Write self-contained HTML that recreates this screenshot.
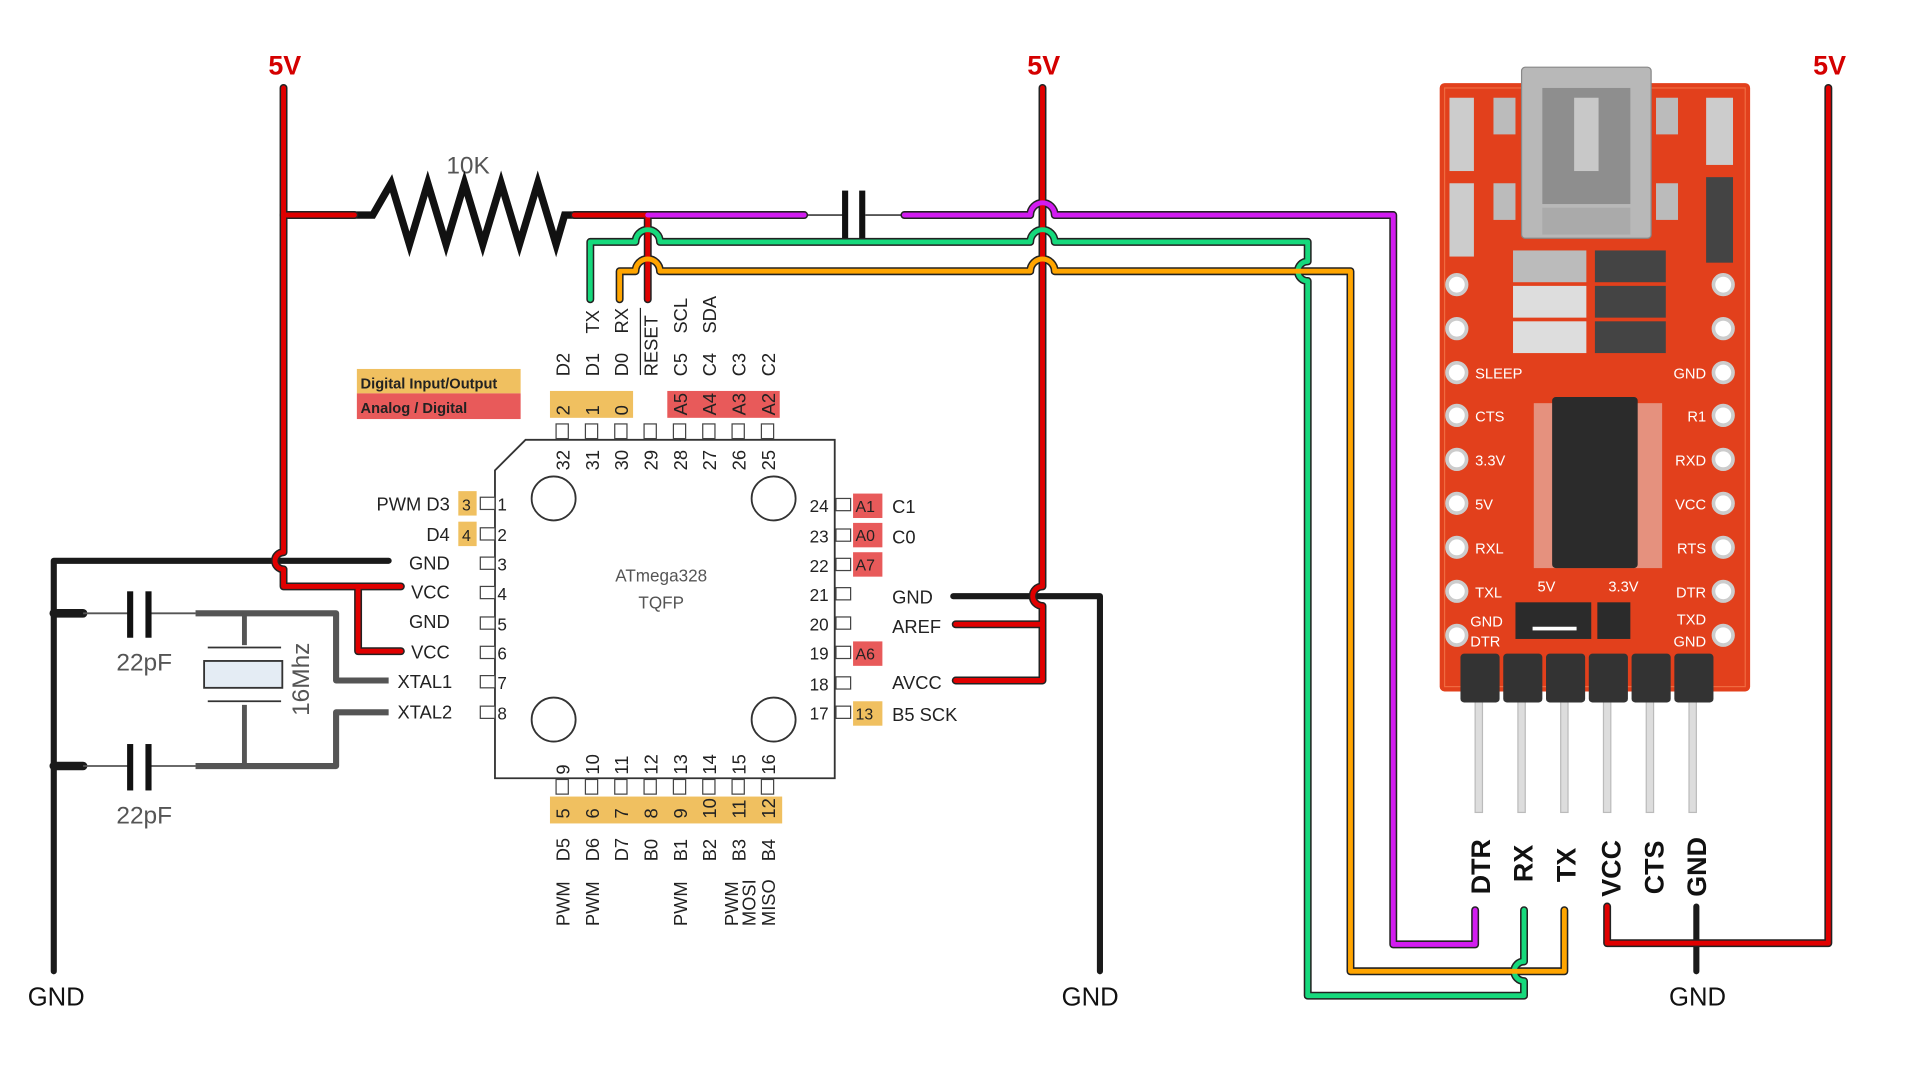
<!DOCTYPE html>
<html><head><meta charset="utf-8"><style>
html,body{margin:0;padding:0;background:#fff;width:1920px;height:1080px;overflow:hidden}
svg{display:block}
text{font-family:"Liberation Sans",sans-serif}
</style></head><body>
<svg width="1920" height="1080" viewBox="0 0 1571 884" preserveAspectRatio="none" xmlns="http://www.w3.org/2000/svg">
<rect width="1571" height="884" fill="#fff"/>

<g font-weight="bold" font-size="22" fill="#d40000" text-anchor="middle">
<text x="233" y="61">5V</text>
<text x="854" y="61">5V</text>
<text x="1497" y="61">5V</text>
</g>

<g font-size="21" fill="#111" text-anchor="middle">
<text x="46" y="823">GND</text>
<text x="892" y="823">GND</text>
<text x="1389" y="823">GND</text>
</g>

<g fill="none" stroke="#1a1a1a" stroke-width="5" stroke-linecap="round" stroke-linejoin="round">
<path d="M44 795 V459 H318"/>
<path d="M780 488 H900 V795"/>
<path d="M1388 742 V795"/>
<path d="M44 502 H68 M44 627 H68" stroke-width="7"/>
</g>

<g stroke="#555" stroke-width="1.5">
<line x1="68" y1="502" x2="107" y2="502"/><line x1="122" y1="502" x2="160" y2="502"/>
<line x1="68" y1="627" x2="107" y2="627"/><line x1="122" y1="627" x2="160" y2="627"/>
</g>
<g fill="#111">
<rect x="104" y="484" width="5" height="38"/><rect x="119" y="484" width="5" height="38"/>
<rect x="104" y="609" width="5" height="38"/><rect x="119" y="609" width="5" height="38"/>
</g>
<g font-size="20" fill="#555" text-anchor="middle">
<text x="118" y="549">22pF</text><text x="118" y="674">22pF</text>
<text x="383" y="142">10K</text>
</g>
<g fill="none" stroke="#555" stroke-width="5" stroke-linejoin="round">
<path d="M160 502 H275 V557 H318"/>
<path d="M160 627 H275 V583 H318"/>
<path d="M200 502 V528 M200 577 V627" stroke-width="4"/>
</g>
<g stroke="#333" stroke-width="1.5">
<line x1="170" y1="530" x2="230" y2="530"/><line x1="170" y1="574" x2="230" y2="574"/>
</g>
<rect x="167" y="541" width="64" height="22" fill="#e4ecf4" stroke="#333" stroke-width="1.5"/>
<text x="0" y="0" font-size="20" fill="#555" text-anchor="middle" transform="translate(253,556) rotate(-90)">16Mhz</text>

<path d="M288 176 H305 L320 150 L335 200 L350 150 L365 200 L380 150 L395 200 L410 150 L425 200 L440 150 L455 200 L462 176 H470" fill="none" stroke="#111" stroke-width="6" stroke-linejoin="miter"/>
<g stroke="#555" stroke-width="1.5"><line x1="658" y1="176" x2="692" y2="176"/><line x1="708" y1="176" x2="740" y2="176"/></g>
<rect x="689" y="156" width="5" height="40" fill="#111"/><rect x="703" y="156" width="5" height="40" fill="#111"/>

<g fill="none" stroke-linecap="round" stroke-linejoin="round">
<g stroke="#222" stroke-width="6.5">
<path id="r1" d="M232 72 V452 A7 7 0 0 0 232 466 V480 H328 M293 480 V533 H328"/>
<path id="r2" d="M232 176 H290 M470 176 H530 V245"/>
<path id="r3" d="M853 72 V480 A8 8 0 0 0 853 496 V557 H782 M853 511 H782"/>
<path id="r4" d="M1315 742 V772 H1496 V72"/>
<path id="m1" d="M530 176 H658 M740 176 H843 A10 10 0 0 1 863 176 H1140 V773 H1207 V745"/>
<path id="g1" d="M483 245 V198 H520 A10 10 0 0 1 540 198 H843 A10 10 0 0 1 863 198 H1070 V214 A8 8 0 0 0 1070 230 V815 H1247 V803 A8 8 0 0 1 1247 787 V745"/>
<path id="o1" d="M507 245 V222 H520 A10 10 0 0 1 540 222 H843 A10 10 0 0 1 863 222 H1105 V795 H1280 V745"/>
</g>
<g stroke-width="4">
<use href="#r1" stroke="#e00000"/><use href="#r2" stroke="#e00000"/><use href="#r3" stroke="#e00000"/><use href="#r4" stroke="#e00000"/>
<use href="#m1" stroke="#d21cf0"/><use href="#g1" stroke="#16d97c"/><use href="#o1" stroke="#ffa500"/>
</g>
</g>
<path d="M232 176 H290" stroke="#e00000" stroke-width="4"/>

<rect x="292" y="302" width="134" height="20" fill="#f0c060"/>
<rect x="292" y="322" width="134" height="21" fill="#e85a5a"/>
<text x="295" y="318" font-size="12" font-weight="bold" fill="#222">Digital Input/Output</text>
<text x="295" y="338" font-size="12" font-weight="bold" fill="#222">Analog / Digital</text>

<path d="M430 360 H683 V637 H405 V385 Z" fill="#fff" stroke="#333" stroke-width="1.5"/>
<g fill="none" stroke="#333" stroke-width="1.5">
<circle cx="453" cy="408" r="18"/><circle cx="633" cy="408" r="18"/><circle cx="453" cy="589" r="18"/><circle cx="633" cy="589" r="18"/>
</g>
<text x="541" y="476" font-size="14" fill="#555" text-anchor="middle">ATmega328</text>
<text x="541" y="498" font-size="14" fill="#555" text-anchor="middle">TQFP</text>

<rect x="450" y="320" width="68" height="22" fill="#f0c060"/>
<rect x="546" y="320" width="92" height="22" fill="#e85a5a"/>
<rect x="450" y="652" width="190" height="22" fill="#f0c060"/>
<rect x="375" y="402" width="15" height="20" fill="#f0c060"/><rect x="375" y="427" width="15" height="20" fill="#f0c060"/>
<rect x="698" y="404" width="24" height="20" fill="#e85a5a"/><rect x="698" y="428" width="24" height="20" fill="#e85a5a"/>
<rect x="698" y="452" width="24" height="20" fill="#e85a5a"/><rect x="698" y="525" width="24" height="20" fill="#e85a5a"/>
<rect x="698" y="574" width="24" height="20" fill="#f0c060"/>

<g fill="#fff" stroke="#444" stroke-width="1">
<rect x="455" y="347" width="10" height="12"/><rect x="479" y="347" width="10" height="12"/><rect x="503" y="347" width="10" height="12"/><rect x="527" y="347" width="10" height="12"/>
<rect x="551" y="347" width="10" height="12"/><rect x="575" y="347" width="10" height="12"/><rect x="599" y="347" width="10" height="12"/><rect x="623" y="347" width="10" height="12"/>
<rect x="455" y="638" width="10" height="12"/><rect x="479" y="638" width="10" height="12"/><rect x="503" y="638" width="10" height="12"/><rect x="527" y="638" width="10" height="12"/>
<rect x="551" y="638" width="10" height="12"/><rect x="575" y="638" width="10" height="12"/><rect x="599" y="638" width="10" height="12"/><rect x="623" y="638" width="10" height="12"/>
<rect x="393" y="407" width="12" height="10"/><rect x="393" y="432" width="12" height="10"/><rect x="393" y="456" width="12" height="10"/><rect x="393" y="480" width="12" height="10"/>
<rect x="393" y="505" width="12" height="10"/><rect x="393" y="529" width="12" height="10"/><rect x="393" y="553" width="12" height="10"/><rect x="393" y="578" width="12" height="10"/>
<rect x="684" y="408" width="12" height="10"/><rect x="684" y="433" width="12" height="10"/><rect x="684" y="457" width="12" height="10"/><rect x="684" y="481" width="12" height="10"/>
<rect x="684" y="505" width="12" height="10"/><rect x="684" y="529" width="12" height="10"/><rect x="684" y="554" width="12" height="10"/><rect x="684" y="578" width="12" height="10"/>
</g>

<g font-size="15" fill="#222">
<text x="407" y="418" font-size="14">1</text><text x="407" y="443" font-size="14">2</text><text x="407" y="467" font-size="14">3</text><text x="407" y="491" font-size="14">4</text>
<text x="407" y="516" font-size="14">5</text><text x="407" y="540" font-size="14">6</text><text x="407" y="564" font-size="14">7</text><text x="407" y="589" font-size="14">8</text>
<text x="378" y="418" font-size="13">3</text><text x="378" y="443" font-size="13">4</text>
</g>
<g font-size="15" fill="#222" text-anchor="end">
<text x="368" y="418">PWM  D3</text><text x="368" y="443">D4</text>
<text x="368" y="466">GND</text><text x="368" y="490">VCC</text><text x="368" y="514">GND</text><text x="368" y="539">VCC</text>
<text x="370" y="563">XTAL1</text><text x="370" y="588">XTAL2</text>
<text x="678" y="419" font-size="14">24</text><text x="678" y="444" font-size="14">23</text><text x="678" y="468" font-size="14">22</text><text x="678" y="492" font-size="14">21</text>
<text x="678" y="516" font-size="14">20</text><text x="678" y="540" font-size="14">19</text><text x="678" y="565" font-size="14">18</text><text x="678" y="589" font-size="14">17</text>
</g>
<g font-size="15" fill="#222">
<text x="700" y="419" font-size="13">A1</text><text x="700" y="443" font-size="13">A0</text><text x="700" y="467" font-size="13">A7</text><text x="700" y="540" font-size="13">A6</text><text x="700" y="589" font-size="13">13</text>
<text x="730" y="420">C1</text><text x="730" y="445">C0</text>
<text x="730" y="494">GND</text><text x="730" y="518">AREF</text><text x="730" y="564">AVCC</text><text x="730" y="590">B5  SCK</text>
</g>

<g font-size="15" fill="#222">
<g transform="translate(466,385) rotate(-90)"><text>32</text></g>
<g transform="translate(490,385) rotate(-90)"><text>31</text></g>
<g transform="translate(514,385) rotate(-90)"><text>30</text></g>
<g transform="translate(538,385) rotate(-90)"><text>29</text></g>
<g transform="translate(562,385) rotate(-90)"><text>28</text></g>
<g transform="translate(586,385) rotate(-90)"><text>27</text></g>
<g transform="translate(610,385) rotate(-90)"><text>26</text></g>
<g transform="translate(634,385) rotate(-90)"><text>25</text></g>
<g transform="translate(466,340) rotate(-90)"><text>2</text></g>
<g transform="translate(490,340) rotate(-90)"><text>1</text></g>
<g transform="translate(514,340) rotate(-90)"><text>0</text></g>
<g transform="translate(562,340) rotate(-90)"><text>A5</text></g>
<g transform="translate(586,340) rotate(-90)"><text>A4</text></g>
<g transform="translate(610,340) rotate(-90)"><text>A3</text></g>
<g transform="translate(634,340) rotate(-90)"><text>A2</text></g>
<g transform="translate(466,308) rotate(-90)"><text>D2</text></g>
<g transform="translate(490,308) rotate(-90)"><text>D1</text></g>
<g transform="translate(514,308) rotate(-90)"><text>D0</text></g>
<g transform="translate(538,308) rotate(-90)"><text>RESET</text></g>
<g transform="translate(562,308) rotate(-90)"><text>C5</text></g>
<g transform="translate(586,308) rotate(-90)"><text>C4</text></g>
<g transform="translate(610,308) rotate(-90)"><text>C3</text></g>
<g transform="translate(634,308) rotate(-90)"><text>C2</text></g>
<g transform="translate(490,273) rotate(-90)"><text>TX</text></g>
<g transform="translate(514,273) rotate(-90)"><text>RX</text></g>
<g transform="translate(562,273) rotate(-90)"><text>SCL</text></g>
<g transform="translate(586,273) rotate(-90)"><text>SDA</text></g>
</g>
<line x1="524" y1="252" x2="524" y2="307" stroke="#222" stroke-width="1"/>

<g font-size="15" fill="#222">
<g transform="translate(466,634) rotate(-90)"><text>9</text></g>
<g transform="translate(490,634) rotate(-90)"><text>10</text></g>
<g transform="translate(514,634) rotate(-90)"><text>11</text></g>
<g transform="translate(538,634) rotate(-90)"><text>12</text></g>
<g transform="translate(562,634) rotate(-90)"><text>13</text></g>
<g transform="translate(586,634) rotate(-90)"><text>14</text></g>
<g transform="translate(610,634) rotate(-90)"><text>15</text></g>
<g transform="translate(634,634) rotate(-90)"><text>16</text></g>
<g transform="translate(466,670) rotate(-90)"><text>5</text></g>
<g transform="translate(490,670) rotate(-90)"><text>6</text></g>
<g transform="translate(514,670) rotate(-90)"><text>7</text></g>
<g transform="translate(538,670) rotate(-90)"><text>8</text></g>
<g transform="translate(562,670) rotate(-90)"><text>9</text></g>
<g transform="translate(586,670) rotate(-90)"><text>10</text></g>
<g transform="translate(610,670) rotate(-90)"><text>11</text></g>
<g transform="translate(634,670) rotate(-90)"><text>12</text></g>
<g transform="translate(466,705) rotate(-90)"><text>D5</text></g>
<g transform="translate(490,705) rotate(-90)"><text>D6</text></g>
<g transform="translate(514,705) rotate(-90)"><text>D7</text></g>
<g transform="translate(538,705) rotate(-90)"><text>B0</text></g>
<g transform="translate(562,705) rotate(-90)"><text>B1</text></g>
<g transform="translate(586,705) rotate(-90)"><text>B2</text></g>
<g transform="translate(610,705) rotate(-90)"><text>B3</text></g>
<g transform="translate(634,705) rotate(-90)"><text>B4</text></g>
<g transform="translate(466,758) rotate(-90)"><text>PWM</text></g>
<g transform="translate(490,758) rotate(-90)"><text>PWM</text></g>
<g transform="translate(562,758) rotate(-90)"><text>PWM</text></g>
<g transform="translate(604,758) rotate(-90)"><text>PWM</text></g>
<g transform="translate(618,758) rotate(-90)"><text>MOSI</text></g>
<g transform="translate(634,758) rotate(-90)"><text>MISO</text></g>
</g>

<rect x="1178" y="68" width="254" height="498" rx="4" fill="#e2401c"/>
<rect x="1182" y="72" width="246" height="490" fill="none" stroke="#f06a40" stroke-width="1"/>
<rect x="1245" y="55" width="106" height="140" rx="3" fill="#b8b8b8" stroke="#888"/>
<rect x="1262" y="72" width="72" height="95" fill="#8e8e8e"/>
<rect x="1288" y="80" width="20" height="60" fill="#c8c8c8"/>
<rect x="1262" y="170" width="72" height="22" fill="#aaa"/>
<rect x="1222" y="80" width="18" height="30" fill="#bbb"/><rect x="1355" y="80" width="18" height="30" fill="#bbb"/>
<rect x="1222" y="150" width="18" height="30" fill="#bbb"/><rect x="1355" y="150" width="18" height="30" fill="#bbb"/>
<rect x="1186" y="80" width="20" height="60" fill="#ccc"/><rect x="1186" y="150" width="20" height="60" fill="#ccc"/>
<rect x="1396" y="80" width="22" height="55" fill="#ccc"/><rect x="1396" y="145" width="22" height="70" fill="#444"/>
<rect x="1238" y="205" width="60" height="26" fill="#bbb"/><rect x="1305" y="205" width="58" height="26" fill="#444"/>
<rect x="1238" y="234" width="60" height="26" fill="#ddd"/><rect x="1305" y="234" width="58" height="26" fill="#444"/>
<rect x="1238" y="263" width="60" height="26" fill="#ddd"/><rect x="1305" y="263" width="58" height="26" fill="#444"/>
<rect x="1255" y="330" width="105" height="135" fill="#e8c8c0" opacity="0.6"/>
<rect x="1270" y="325" width="70" height="140" rx="3" fill="#2b2b2b"/>
<g fill="#fff" stroke="#ccc" stroke-width="3">
<circle cx="1192" cy="233" r="8"/><circle cx="1192" cy="269" r="8"/><circle cx="1192" cy="305" r="8"/><circle cx="1192" cy="340" r="8"/>
<circle cx="1192" cy="376" r="8"/><circle cx="1192" cy="412" r="8"/><circle cx="1192" cy="448" r="8"/><circle cx="1192" cy="484" r="8"/><circle cx="1192" cy="520" r="8"/>
<circle cx="1410" cy="233" r="8"/><circle cx="1410" cy="269" r="8"/><circle cx="1410" cy="305" r="8"/><circle cx="1410" cy="340" r="8"/>
<circle cx="1410" cy="376" r="8"/><circle cx="1410" cy="412" r="8"/><circle cx="1410" cy="448" r="8"/><circle cx="1410" cy="484" r="8"/><circle cx="1410" cy="520" r="8"/>
</g>
<g font-size="12" fill="#fff">
<text x="1207" y="310">SLEEP</text><text x="1207" y="345">CTS</text><text x="1207" y="381">3.3V</text><text x="1207" y="417">5V</text>
<text x="1207" y="453">RXL</text><text x="1207" y="489">TXL</text><text x="1203" y="513">GND</text><text x="1203" y="529">DTR</text>
<text x="1396" y="310" text-anchor="end">GND</text><text x="1396" y="345" text-anchor="end">R1</text><text x="1396" y="381" text-anchor="end">RXD</text>
<text x="1396" y="417" text-anchor="end">VCC</text><text x="1396" y="453" text-anchor="end">RTS</text><text x="1396" y="489" text-anchor="end">DTR</text>
<text x="1396" y="511" text-anchor="end">TXD</text><text x="1396" y="529" text-anchor="end">GND</text>
<text x="1258" y="484">5V</text><text x="1316" y="484">3.3V</text>
</g>
<rect x="1240" y="493" width="62" height="30" fill="#2b2b2b"/><rect x="1307" y="493" width="27" height="30" fill="#2b2b2b"/>
<rect x="1254" y="513" width="36" height="3" fill="#fff"/>
<g fill="#ddd" stroke="#bbb">
<rect x="1207" y="570" width="6" height="95"/><rect x="1242" y="570" width="6" height="95"/><rect x="1277" y="570" width="6" height="95"/>
<rect x="1312" y="570" width="6" height="95"/><rect x="1347" y="570" width="6" height="95"/><rect x="1382" y="570" width="6" height="95"/>
</g>
<g fill="#333">
<rect x="1195" y="535" width="32" height="40" rx="3"/><rect x="1230" y="535" width="32" height="40" rx="3"/><rect x="1265" y="535" width="32" height="40" rx="3"/>
<rect x="1300" y="535" width="32" height="40" rx="3"/><rect x="1335" y="535" width="32" height="40" rx="3"/><rect x="1370" y="535" width="32" height="40" rx="3"/>
</g>
<g font-size="22" font-weight="bold" fill="#111">
<g transform="translate(1219,732) rotate(-90)"><text>DTR</text></g>
<g transform="translate(1254,722) rotate(-90)"><text>RX</text></g>
<g transform="translate(1289,722) rotate(-90)"><text>TX</text></g>
<g transform="translate(1326,734) rotate(-90)"><text>VCC</text></g>
<g transform="translate(1361,732) rotate(-90)"><text>CTS</text></g>
<g transform="translate(1396,734) rotate(-90)"><text>GND</text></g>
</g>
</svg>
</body></html>
